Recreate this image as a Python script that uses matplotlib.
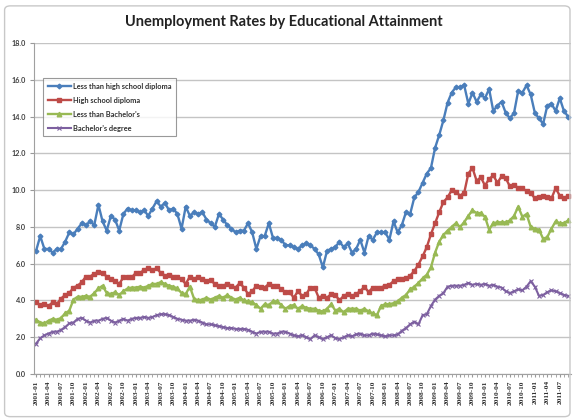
import matplotlib
matplotlib.use("Agg")
import matplotlib.pyplot as plt
import pandas as pd
from matplotlib.patches import FancyBboxPatch

months = [str(p) for p in pd.period_range("2001-01", "2011-09", freq="M")]

less_than_hs = [
    6.7, 7.5, 6.8, 6.8, 6.6, 6.8, 6.8, 7.2, 7.7, 7.6, 7.9, 8.2,
    8.1, 8.3, 8.1, 9.2, 8.3, 7.8, 8.6, 8.4, 7.8, 8.7, 9.0, 8.9,
    8.9, 8.8, 8.9, 8.6, 9.0, 9.4, 9.1, 9.3, 8.9, 9.0, 8.7, 7.9,
    9.1, 8.6, 8.8, 8.7, 8.8, 8.4, 8.2, 8.0, 8.7, 8.4, 8.1, 7.9,
    7.7, 7.8, 7.8, 8.2, 7.7, 6.8, 7.5, 7.5, 8.2, 7.4, 7.4, 7.3,
    7.0, 7.0, 6.9, 6.8, 7.0, 7.1, 7.0, 6.8, 6.5, 5.8, 6.7, 6.8,
    6.9, 7.2, 6.9, 7.1, 6.6, 6.8, 7.3, 6.6, 7.5, 7.3, 7.7, 7.7,
    7.7, 7.3, 8.3, 7.7, 8.1, 8.8, 8.7, 9.6, 9.9, 10.4, 10.9, 11.2,
    12.3, 13.0, 13.8, 14.75, 15.3, 15.6, 15.6, 15.7, 14.7, 15.3, 14.8, 15.2,
    15.0, 15.5, 14.3, 14.6, 14.8, 14.2, 13.9, 14.2, 15.4, 15.3, 15.7, 15.2,
    14.2, 13.9, 13.6, 14.6, 14.7, 14.3, 15.0, 14.3, 14.0,
]
high_school = [
    3.9, 3.75, 3.8, 3.7, 3.9, 3.8, 4.1, 4.3, 4.4, 4.7, 4.8, 5.0,
    5.3, 5.3, 5.45, 5.55, 5.5, 5.3, 5.15, 5.05, 4.9, 5.25, 5.3, 5.25,
    5.5, 5.5, 5.65, 5.75, 5.65, 5.75, 5.5, 5.35, 5.4, 5.3, 5.3, 5.15,
    4.9, 5.3, 5.15, 5.3, 5.15, 5.05, 5.1, 4.9, 4.8, 4.8, 4.9, 4.8,
    4.7, 4.95, 4.7, 4.35, 4.5, 4.8, 4.75, 4.7, 4.9, 4.8, 4.8, 4.6,
    4.45, 4.45, 4.15, 4.5, 4.25, 4.35, 4.7, 4.7, 4.15, 4.25, 4.15, 4.35,
    4.3, 4.0, 4.25, 4.35, 4.25, 4.35, 4.5, 4.75, 4.45, 4.7, 4.7, 4.7,
    4.8, 4.85, 5.05, 5.15, 5.15, 5.2, 5.35, 5.6, 5.95, 6.4, 6.9, 7.6,
    8.2, 8.8, 9.35, 9.6, 10.0, 9.9, 9.7, 9.85, 10.9, 11.2, 10.5, 10.7,
    10.25, 10.6, 10.8, 10.4, 10.75, 10.65, 10.2, 10.3, 10.1, 10.1, 9.95, 9.85,
    9.55, 9.6, 9.7, 9.65, 9.55, 10.1, 9.7, 9.55, 9.7,
]
less_than_ba = [
    2.95, 2.8, 2.75, 2.9, 3.0, 2.95, 3.05, 3.3, 3.45, 4.05, 4.2, 4.2,
    4.25, 4.2, 4.4, 4.65, 4.8, 4.4, 4.35, 4.45, 4.3, 4.5, 4.65, 4.7,
    4.7, 4.75, 4.7, 4.8, 4.9, 4.9, 5.0, 4.9, 4.8, 4.75, 4.65, 4.4,
    4.35, 4.75, 4.1, 4.0, 4.05, 4.15, 4.05, 4.15, 4.25, 4.15, 4.3, 4.15,
    4.05, 4.15, 4.0, 3.95, 3.9, 3.75, 3.55, 3.8, 3.75, 3.95, 3.95, 3.75,
    3.55, 3.7, 3.75, 3.55, 3.7, 3.6, 3.55, 3.55, 3.45, 3.4, 3.55, 3.8,
    3.45, 3.55, 3.35, 3.55, 3.55, 3.55, 3.45, 3.55, 3.4, 3.3, 3.2, 3.7,
    3.8, 3.8, 3.85, 3.95, 4.15, 4.3, 4.6, 4.75, 4.95, 5.2, 5.4, 5.8,
    6.6, 7.2, 7.55, 7.8, 8.0, 8.2, 8.0, 8.25, 8.6, 8.9, 8.75, 8.75,
    8.55, 7.85, 8.2, 8.25, 8.25, 8.25, 8.35, 8.6, 9.1, 8.55, 8.7, 8.0,
    7.9, 7.85, 7.35, 7.45, 7.9, 8.3, 8.2, 8.2, 8.35,
]
bachelors = [
    1.65, 1.95, 2.1, 2.2, 2.3, 2.3, 2.4, 2.55, 2.75, 2.8, 3.0, 3.05,
    2.9, 2.8, 2.9, 2.9, 3.0, 3.05, 2.9, 2.8, 2.9, 3.0, 2.9, 3.0,
    3.05, 3.05, 3.1, 3.05, 3.1, 3.2, 3.25, 3.25, 3.2, 3.1, 3.0, 2.95,
    2.9, 2.9, 2.95, 2.9, 2.8, 2.7, 2.7, 2.65, 2.6, 2.55, 2.5, 2.5,
    2.45, 2.45, 2.45, 2.4, 2.3, 2.2, 2.3, 2.3, 2.3, 2.2, 2.2, 2.3,
    2.3, 2.2, 2.1, 2.05, 2.1, 2.0, 1.9, 2.1, 2.0, 1.9, 2.0, 2.1,
    1.95, 1.9, 2.0, 2.1, 2.05, 2.15, 2.2, 2.1, 2.1, 2.2, 2.15, 2.1,
    2.05, 2.1, 2.1, 2.15, 2.35, 2.5, 2.7, 2.85, 2.7, 3.2, 3.25, 3.7,
    4.05, 4.25, 4.4, 4.75, 4.8, 4.8, 4.8, 4.85, 4.95, 4.85, 4.9, 4.85,
    4.9, 4.8, 4.85, 4.75, 4.7, 4.5, 4.4, 4.5, 4.6, 4.55, 4.75, 5.05,
    4.75, 4.25, 4.3, 4.45, 4.55, 4.5, 4.4, 4.3, 4.25,
]
series_names = ["Less than high school diploma", "High school diploma",
                "Less than Bachelor's", "Bachelor's degree"]
y_ticks = [0, 2, 4, 6, 8, 10, 12, 14, 16, 18]

plt.rcParams["font.family"] = ["Lato", "DejaVu Sans"]

fig = plt.figure(figsize=(5.74, 4.20), dpi=100)
fig.patches.append(FancyBboxPatch((0.008, 0.008), 0.985, 0.978,
                                  boxstyle="round,pad=0,rounding_size=0.01",
                                  transform=fig.transFigure, fill=False,
                                  edgecolor="#c8c8c8", linewidth=1.0))
ax = fig.add_axes([34 / 574, 1 - 374 / 420, 537 / 574, 331 / 420])

x = list(range(len(months)))
ax.plot(x, less_than_hs, color="#4a7ebb", lw=1.7, marker="D", ms=2.4,
        label=series_names[0])
ax.plot(x, high_school, color="#be4b48", lw=1.7, marker="s", ms=3.5,
        label=series_names[1])
ax.plot(x, less_than_ba, color="#98b954", lw=1.7, marker="^", ms=3.3,
        label=series_names[2])
ax.plot(x, bachelors, color="#7d60a0", lw=1.5, marker="x", ms=2.6, mew=0.8,
        label=series_names[3])

ax.set_ylim(0, 18)
ax.set_yticks(y_ticks)
ax.set_yticklabels([f"{v:.1f}" for v in y_ticks], fontsize=5.2,
                   fontweight="bold", color="#404040")
ax.set_xlim(-0.5, len(months) - 0.3)
ax.set_xticks(x[::3])
ax.set_xticklabels(months[::3], rotation=90, fontsize=5.3, fontweight="bold",
                   family="Liberation Serif", color="#303030")
ax.set_xticks(x, minor=True)
ax.tick_params(axis="x", which="both", length=2.5, color="#999999", pad=2)
ax.tick_params(axis="y", length=3, color="#999999", pad=3)

ax.grid(axis="y", color="#c4c4c4", lw=1.0)
ax.set_axisbelow(True)
for side in ["top", "right"]:
    ax.spines[side].set_visible(False)
for side in ["left", "bottom"]:
    ax.spines[side].set_color("#a0a0a0")

leg = ax.legend(loc="upper left", bbox_to_anchor=(0.017, 0.893),
                borderaxespad=0, fancybox=False, handlelength=3.2,
                handletextpad=0.3, labelspacing=0.95, borderpad=0.6,
                prop={"size": 5.3, "weight": "bold"})
leg.get_frame().set_edgecolor("#808080")
leg.get_frame().set_linewidth(0.8)
for t in leg.get_texts():
    t.set_color("#303030")

fig.text(0.495, 0.947, "Unemployment Rates by Educational Attainment",
         ha="center", va="center", fontsize=10.5, fontweight="bold",
         color="#222222")

fig.savefig("out.png", dpi=100)
